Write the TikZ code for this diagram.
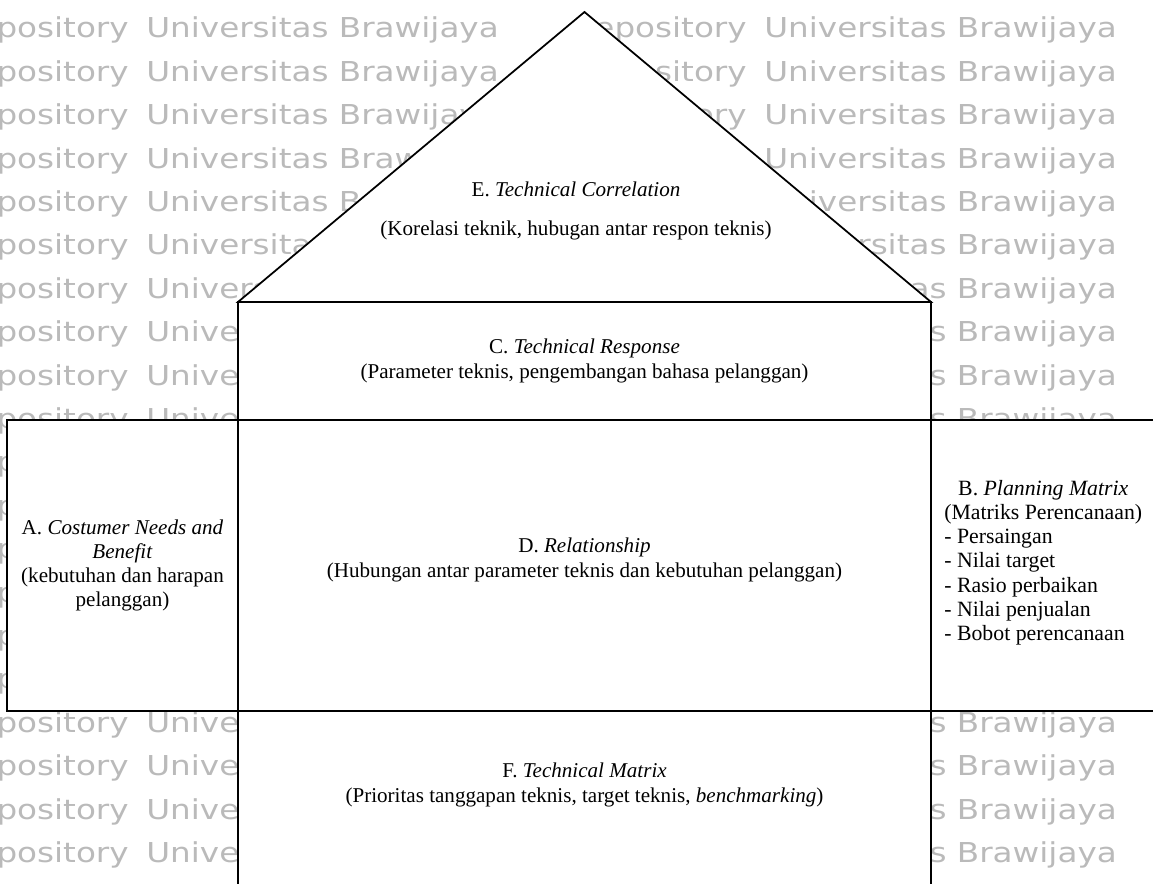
\documentclass[tikz,border=0pt]{standalone}
\usepackage{fontspec}
\setmainfont{Liberation Serif}
\newfontfamily\wmfont[FakeStretch=1.19]{DejaVu Sans}
\begin{document}
\begin{tikzpicture}[x=0.02cm, y=-0.02cm,
  wm/.style={font=\wmfont\fontsize{15.6}{18}\selectfont, text=black!27, inner sep=0},
  part/.style={draw=black, line width=1pt, fill=white, inner sep=0},
  label/.style={font=\fontsize{12}{13.8}\selectfont, align=center, inner sep=0}]
\useasboundingbox (0,0) rectangle (1153,884);

% background watermark, two copies per row
\foreach \k in {-1,...,20}{
  \pgfmathsetmacro\yb{38+43.4*\k}
  \foreach \dx in {0,618}{
    \node[wm, anchor=base east] (wmr-\k-\dx) at (129+\dx,\yb) {Repository};
    \node[wm, anchor=base west] (wmu-\k-\dx) at (146+\dx,\yb) {Universitas Brawijaya};
  }
}

% roof: technical correlation
\coordinate (apex) at (584.5,12);
\coordinate (eaveL) at (238,302);
\coordinate (eaveR) at (931,302);
\filldraw[fill=white, line width=1pt, line join=miter] (eaveL) -- (apex) -- (eaveR) -- cycle;

% house body
\node[part, minimum width=13.86cm, minimum height=2.36cm] (respC) at (584.5,361) {};
\node[part, minimum width=4.62cm,  minimum height=5.82cm] (needA) at (122.5,565.5) {};
\node[part, minimum width=13.86cm, minimum height=5.82cm] (relD)  at (584.5,565.5) {};
\node[part, minimum width=4.60cm,  minimum height=5.82cm] (planB) at (1046,565.5) {};
\node[part, minimum width=13.86cm, minimum height=3.80cm] (matF)  at (584.5,806) {};

% labels
\node[label, anchor=base] (txtE) at (576,197) {E. \textit{Technical Correlation}};
\node[label, anchor=base] (txtEsub) at (576,236) {(Korelasi teknik, hubugan antar respon teknis)};
\node[label] (txtC) at (respC) {C. \textit{Technical Response}\\(Parameter teknis, pengembangan bahasa pelanggan)};
\node[label] (txtA) at (needA) {A. \textit{Costumer Needs and}\\\textit{Benefit}\\(kebutuhan dan harapan\\pelanggan)};
\node[label] (txtD) at (584.5,560) {D. \textit{Relationship}\\(Hubungan antar parameter teknis dan kebutuhan pelanggan)};
\node[label, anchor=west, font=\fontsize{12.4}{13.8}\selectfont] (txtB) at (944,563) {%
  \begin{tabular}{@{}l@{}}
  \multicolumn{1}{@{}c@{}}{B. \textit{Planning Matrix}}\\
  (Matriks Perencanaan)\\
  - Persaingan\\
  - Nilai target\\
  - Rasio perbaikan\\
  - Nilai penjualan\\
  - Bobot perencanaan
  \end{tabular}};
\node[label] (txtF) at (584.5,785) {F. \textit{Technical Matrix}\\(Prioritas tanggapan teknis, target teknis, \textit{benchmarking})};
\end{tikzpicture}
\end{document}
